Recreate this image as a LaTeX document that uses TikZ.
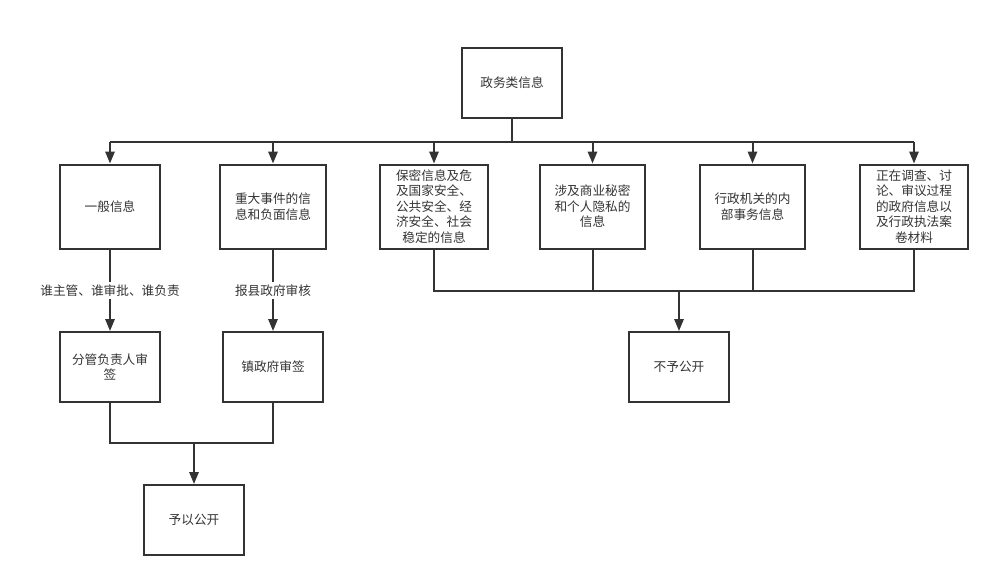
\documentclass[tikz,border=0pt]{standalone}
\usepackage{fontspec}
\setmainfont{Noto Sans CJK SC}
\usetikzlibrary{arrows.meta}
\definecolor{ink}{HTML}{333333}
\tikzset{
  box/.style={draw=ink, line width=1.5pt, rectangle, inner sep=0pt, align=center,
    text=ink, font=\fontsize{9.5}{11.7}\selectfont, minimum height=52.5pt},
  w100/.style={minimum width=75pt},
  w105/.style={minimum width=79pt},
  w108/.style={minimum width=81pt},
  conn/.style={draw=ink, line width=1.5pt},
  arr/.style={conn, -{Triangle[length=9pt,width=7pt]}},
  lab/.style={fill=white, text=ink, font=\fontsize{9.5}{11.7}\selectfont, inner sep=2pt}
}
\begin{document}
\begin{tikzpicture}[x=0.75pt, y=-0.75pt]
\useasboundingbox (0,0) rectangle (999,587);
% nodes
\node[box,w100] (top) at (512,83) {政务类信息};
\node[box,w100, minimum height=63pt] (yiban) at (110,206.5) {一般信息};
\node[box,w105, minimum height=63pt, minimum width=79.5pt] (zhongda) at (273,206.5) {重大事件的信\\息和负面信息};
\node[box,w108, minimum height=63pt] (baomi) at (434,206.5) {保密信息及危\\及国家安全、\\公共安全、经\\济安全、社会\\稳定的信息};
\node[box,w105, minimum height=63pt] (shangye) at (592.5,206.5) {涉及商业秘密\\和个人隐私的\\信息};
\node[box,w105, minimum height=63pt] (neibu) at (752.5,206.5) {行政机关的内\\部事务信息};
\node[box,w108, minimum height=63pt] (diaocha) at (914,206.5) {正在调查、讨\\论、审议过程\\的政府信息以\\及行政执法案\\卷材料};
\node[box,w100] (fenguan) at (110,367) {分管负责人审\\签};
\node[box,w100] (zhen) at (273,367) {镇政府审签};
\node[box,w100] (buyu) at (679,367) {不予公开};
\node[box,w100] (gongkai) at (194,520) {予以公开};
% junctions
\coordinate (bus) at (512,142);
\coordinate (j1) at (194,443);
\coordinate (j2) at (679,291);
% top bus
\draw[conn] (top.south) -- (bus);
\draw[conn] (yiban.north |- bus) -- (diaocha.north |- bus);
\foreach \n in {yiban,zhongda,baomi,shangye,neibu,diaocha}
  \draw[arr] (\n.north |- bus) -- (\n.north);
% left branches
\draw[arr] (yiban.south) -- node[lab, pos=0.5] {谁主管、谁审批、谁负责} (fenguan.north);
\draw[arr] (zhongda.south) -- node[lab, pos=0.5] {报县政府审核} (zhen.north);
\draw[conn] (fenguan.south) |- (j1) -| (zhen.south);
\draw[arr] (j1) -- (gongkai.north);
% right join
\draw[conn] (baomi.south) |- (j2) -| (diaocha.south);
\draw[conn] (shangye.south) -- (shangye.south |- j2);
\draw[conn] (neibu.south) -- (neibu.south |- j2);
\draw[arr] (j2) -- (buyu.north);
\end{tikzpicture}
\end{document}
